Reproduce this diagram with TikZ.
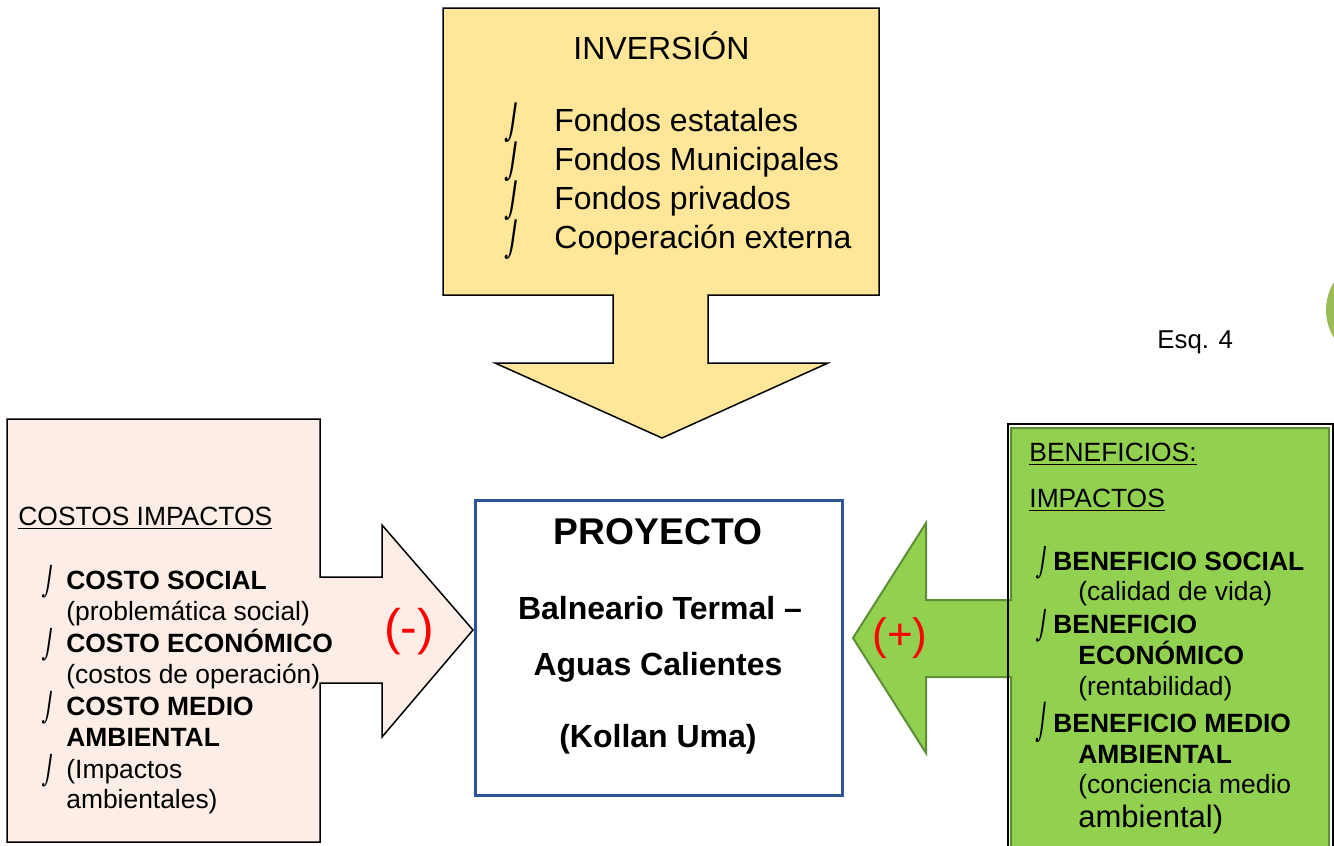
\documentclass[tikz,border=0pt]{standalone}
\usepackage{fontspec}
\setmainfont{Liberation Sans}
\newfontfamily\hkfont[FakeSlant=0.2]{DejaVu Sans}
\usetikzlibrary{positioning}
\definecolor{invyellow}{HTML}{FFE699}
\definecolor{costpink}{HTML}{FCEEE6}
\definecolor{benefgreen}{HTML}{92D050}
\definecolor{benefline}{HTML}{5E8E36}
\definecolor{projblue}{HTML}{2F5597}
\definecolor{tabgreen}{HTML}{9BBB59}
\newcommand\hk[1]{\raisebox{-0.1em}{\scalebox{0.75}[#1]{\mdseries\hkfont ⌡}}}
\newcommand\bul[2][1.05]{\makebox[#2][l]{\hk{#1}}}
\tikzset{
 panel/.style={draw=black, line width=0.75pt, line join=miter},
 invtext/.style={anchor=base west, inner sep=0pt, font=\fontsize{16}{19.5}\selectfont},
 lsttext/.style={anchor=base west, inner sep=0pt, font=\fontsize{13.2}{16}\selectfont},
 lstbold/.style={lsttext, font=\fontsize{13.2}{16}\selectfont\bfseries},
 projtext/.style={anchor=base, inner sep=0pt, font=\fontsize{16}{19}\selectfont\bfseries},
 sign/.style={inner sep=0pt, text=red}
}

\begin{document}
\begin{tikzpicture}[x=0.5pt, y=-0.5pt]
	\useasboundingbox (0,0) rectangle (1334,846);
	\clip (0,0) rectangle (1334,846);

	% investment box with arrow down
	\path[panel, fill=invyellow] (443,8) -- (879,8) -- (879,295) -- (708,295) -- (708,363)
		-- (828,363) -- (662,438) -- (495,363) -- (613,363) -- (613,295) -- (443,295) -- cycle;
	\node[invtext] (inv) at (573,59) {INVERSIÓN};
	\node[invtext] (inv1) at (505,131) {\bul{24.5pt}Fondos estatales};
	\node[invtext] (inv2) at (505,170) {\bul{24.5pt}Fondos Municipales};
	\node[invtext] (inv3) at (505,209) {\bul{24.5pt}Fondos privados};
	\node[invtext] (inv4) at (505,248) {\bul{24.5pt}Cooperación externa};

	% costs box with arrow right
	\path[panel, fill=costpink] (7,419) -- (320,419) -- (320,577) -- (382,577) -- (382,525)
		-- (473,630) -- (382,737) -- (382,683) -- (320,683) -- (320,842) -- (7,842) -- cycle;
	\node[lsttext] (cst) at (18,525) {\underline{COSTOS IMPACTOS}};
	\node[lstbold] (cst1) at (42,589) {\bul{12pt}COSTO SOCIAL};
	\node[lsttext] (cst1a) at (66,620) {(problemática social)};
	\node[lstbold] (cst2) at (42,652) {\bul{12pt}COSTO ECONÓMICO};
	\node[lsttext] (cst2a) at (66,683) {(costos de operación)};
	\node[lstbold] (cst3) at (42,715) {\bul{12pt}COSTO MEDIO};
	\node[lstbold] (cst3a) at (66,746) {AMBIENTAL};
	\node[lsttext] (cst4) at (42,778) {\bul{12pt}(Impactos};
	\node[lsttext] (cst4a) at (66,808) {ambientales)};
	\node[sign, font=\fontsize{25}{28}\selectfont] (minus) at (409,632) {(-)};

	% project
	\node[draw=projblue, line width=1.5pt, fill=white, minimum width=183.5pt, minimum height=147.5pt]
		(proj) at (658.5,647.5) {};
	\node[projtext, font=\fontsize{18.6}{22}\selectfont\bfseries] (proj1) at (658,544) {PROYECTO};
	\node[projtext] (proj2) at (660,619) {Balneario Termal –};
	\node[projtext] (proj3) at (658,675) {Aguas Calientes};
	\node[projtext] (proj4) at (658,747) {(Kollan Uma)};

	% benefits box with arrow left
	\path[draw=black, line width=0.75pt] (1008,424) rectangle (1333,880);
	\path[draw=benefline, line width=1pt, fill=benefgreen, line join=miter] (1011,428) -- (1329,428)
		-- (1329,880) -- (1011,880) -- (1011,677) -- (926,677) -- (926,753) -- (853,638)
		-- (926,523) -- (926,600) -- (1011,600) -- cycle;
	\draw[black, line width=0.75pt] (1008,424) -- (1008,880);
	\node[lsttext] (ben) at (1029,461) {\underline{BENEFICIOS:}};
	\node[lsttext] (ben0) at (1029,507) {\underline{IMPACTOS}};
	\node[lstbold] (ben1) at (1036,570) {\bul{8.5pt}BENEFICIO SOCIAL};
	\node[lsttext] (ben1a) at (1078,600) {(calidad de vida)};
	\node[lstbold] (ben2) at (1036,633) {\bul{8.5pt}BENEFICIO};
	\node[lstbold] (ben2a) at (1078,664) {ECONÓMICO};
	\node[lsttext] (ben2b) at (1078,695) {(rentabilidad)};
	\node[lstbold] (ben3) at (1036,732) {\bul[1.3]{8.5pt}BENEFICIO MEDIO};
	\node[lstbold] (ben3a) at (1078,763) {AMBIENTAL};
	\node[lsttext] (ben3b) at (1078,793) {(conciencia medio};
	\node[lsttext, font=\fontsize{15.5}{18}\selectfont] (ben3c) at (1078,827) {ambiental)};
	\node[sign, font=\fontsize{22}{26}\selectfont] (plus) at (900,638) {(+)};

	% sheet label and page tab
	\node[lsttext, font=\fontsize{12.9}{15}\selectfont] (esq) at (1157,348) {Esq. 4};
	\fill[tabgreen] (1379,310) circle[radius=53];
\end{tikzpicture}
\end{document}
